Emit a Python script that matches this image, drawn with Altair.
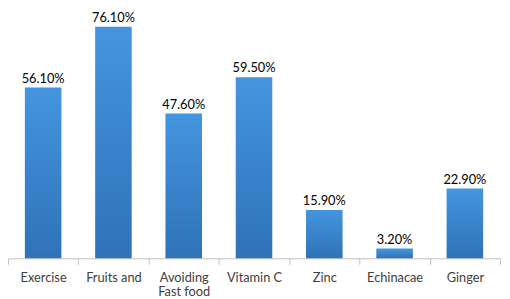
import altair as alt
import pandas as pd

categories = ["Exercise", "Fruits and", "Avoiding|Fast food", "Vitamin C", "Zinc", "Echinacae", "Ginger"]
values = [56.1, 76.1, 47.6, 59.5, 15.9, 3.2, 22.9]
labels = ["56.10%", "76.10%", "47.60%", "59.50%", "15.90%", "3.20%", "22.90%"]

df = pd.DataFrame({"cat": categories, "val": values, "lab": labels})

x = alt.X("cat:N", sort=categories, title=None,
          scale=alt.Scale(paddingInner=0, paddingOuter=0),
          axis=alt.Axis(labelExpr="split(datum.label, '|')", labelAngle=0,
                        tickBand="extent", domainColor="#bfbfbf", tickColor="#bfbfbf",
                        tickSize=6, labelPadding=8, labelFont="Lato", labelFontSize=13,
                        labelColor="#404040", labelLineHeight=14, grid=False))
y = alt.Y("val:Q", scale=alt.Scale(domain=[0, 81.5], nice=False, zero=True), axis=None)

gradient = alt.Gradient(gradient="linear", x1=0, y1=0, x2=0, y2=1,
                        stops=[alt.GradientStop(color="#4495df", offset=0),
                               alt.GradientStop(color="#2f72b8", offset=1)])

bars = alt.Chart(df).mark_bar(color=gradient, width={"band": 0.52}).encode(x=x, y=y)
text = alt.Chart(df).mark_text(baseline="alphabetic", dy=-5, font="Lato", fontSize=13,
                               color="#000000").encode(x=x, y=y, text="lab:N")

chart = (bars + text).properties(
    width=500, height=252,
    padding={"top": 0, "bottom": 39, "left": 0, "right": 2},
    autosize=alt.AutoSizeParams(type="none"),
).configure_view(stroke=None)
chart.save("out.html", embed_options={"renderer": "svg", "actions": False})
